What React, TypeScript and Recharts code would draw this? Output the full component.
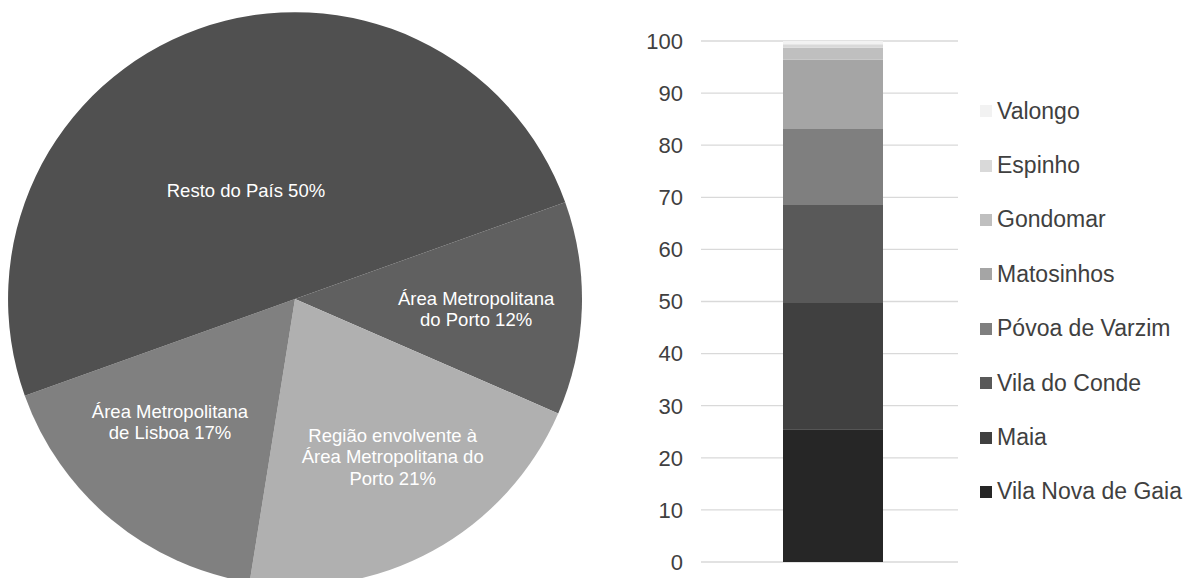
import { Bar, BarChart, CartesianGrid, Cell, Pie, PieChart, XAxis, YAxis } from "recharts";

// pie: share of total (%), clockwise from the upper-right boundary
const regions = [
  ["Área Metropolitana", "do Porto"],
  ["Região envolvente à", "Área Metropolitana do", "Porto"],
  ["Área Metropolitana", "de Lisboa"],
  ["Resto do País"],
];
const regionShares = [12, 21, 17, 50];
const regionColors = ["#606060", "#b0b0b0", "#808080", "#505050"];

// stacked bar: municipalities of the Porto metro area (%), bottom to top
const municipios = [
  "Vila Nova de Gaia",
  "Maia",
  "Vila do Conde",
  "Póvoa de Varzim",
  "Matosinhos",
  "Gondomar",
  "Espinho",
  "Valongo",
];
const municipioShares = [25.5, 24.2, 18.8, 14.6, 13.3, 2.3, 0.7, 0.6];
const municipioColors = ["#262626", "#404040", "#595959", "#7f7f7f", "#a5a5a5", "#bfbfbf", "#d9d9d9", "#f2f2f2"];
const yTicks = [0, 10, 20, 30, 40, 50, 60, 70, 80, 90, 100];

const FONT = '"Liberation Sans", Arial, sans-serif';
const RADIAN = Math.PI / 180;
// label nudges (px) from the 0.6·r point on each slice's mid-angle
const labelNudge = [
  [9, 4],
  [15, 6],
  [-15, -10],
  [9, 53],
];

const pieData = regions.map((lines, i) => ({ name: lines.join(" "), lines, value: regionShares[i] }));
const barRow = [
  municipios.reduce<Record<string, number | string>>(
    (row, m, i) => {
      row[m] = municipioShares[i];
      return row;
    },
    { name: "AMP" }
  ),
];

function PieLabel(props: any) {
  const { cx, cy, midAngle, outerRadius, index, payload } = props;
  const r = outerRadius * 0.6;
  const x = cx + r * Math.cos(-midAngle * RADIAN) + labelNudge[index][0];
  const y = cy + r * Math.sin(-midAngle * RADIAN) + labelNudge[index][1];
  const lines: string[] = [...payload.lines];
  lines[lines.length - 1] = `${lines[lines.length - 1]} ${payload.value}%`;
  const lh = 21.5;
  const y0 = y - ((lines.length - 1) * lh) / 2;
  return (
    <text x={x} y={y0} fill="#ffffff" fontSize={18.5} fontFamily={FONT} textAnchor="middle" dominantBaseline="central">
      {lines.map((l, i) => (
        <tspan key={i} x={x} y={y0 + i * lh}>
          {l}
        </tspan>
      ))}
    </text>
  );
}

export default function App() {
  return (
    <div style={{ position: "absolute", left: 0, top: 0, width: 1192, height: 578, background: "#fff", overflow: "hidden", fontFamily: FONT }}>
      <div style={{ position: "absolute", left: 0, top: 0 }}>
        <PieChart width={600} height={578} margin={{ top: 0, right: 0, bottom: 0, left: 0 }}>
          <Pie
            data={pieData}
            dataKey="value"
            cx={295}
            cy={299}
            outerRadius={287}
            startAngle={19.7}
            endAngle={-340.3}
            stroke="none"
            label={PieLabel}
            labelLine={false}
            isAnimationActive={false}
          >
            {pieData.map((d, i) => (
              <Cell key={d.name} fill={regionColors[i]} />
            ))}
          </Pie>
        </PieChart>
      </div>

      <div style={{ position: "absolute", left: 600, top: 0 }}>
        <BarChart width={592} height={578} data={barRow} margin={{ top: 41, right: 234, bottom: 16, left: 0 }}>
          <CartesianGrid stroke="#d9d9d9" strokeWidth={1.3} vertical={false} />
          <XAxis dataKey="name" hide padding={{ left: 7, right: 0 }} />
          <YAxis
            domain={[0, 100]}
            ticks={yTicks}
            width={101}
            tickLine={false}
            axisLine={false}
            tickMargin={12}
            tick={{ fill: "#404040", fontSize: 22, fontFamily: FONT }}
            interval={0}
          />
          {municipios.map((m, i) => (
            <Bar key={m} dataKey={m} stackId="a" fill={municipioColors[i]} barSize={100} isAnimationActive={false} />
          ))}
        </BarChart>
      </div>

      <div style={{ position: "absolute", left: 980, top: 84 }}>
        {municipios
          .map((m, i) => ({ m, c: municipioColors[i] }))
          .reverse()
          .map(({ m, c }) => (
            <div key={m} style={{ display: "flex", alignItems: "center", height: 54.4 }}>
              <span style={{ display: "inline-block", width: 12, height: 12, background: c, marginRight: 5, flexShrink: 0 }} />
              <span style={{ fontSize: 23, color: "#404040", whiteSpace: "nowrap" }}>{m}</span>
            </div>
          ))}
      </div>
    </div>
  );
}
